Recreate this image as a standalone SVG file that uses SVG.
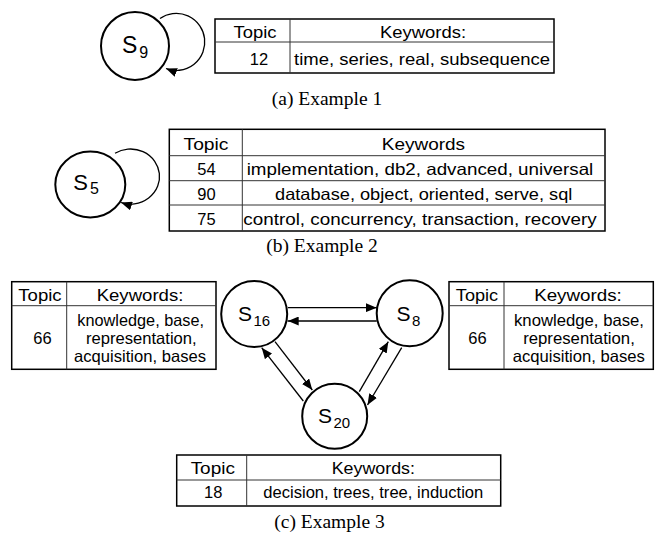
<svg xmlns="http://www.w3.org/2000/svg" width="661" height="533" viewBox="0 0 661 533">
<style>
.node{fill:#fff;stroke:#000;stroke-width:2}
.lbl{font-family:"Liberation Sans",Arial,sans-serif;fill:#000}
.tb{fill:#fff;stroke:#000;stroke-width:1.5}
.in{stroke:#333;stroke-width:1;fill:none}
.t{font-family:"Liberation Sans",Arial,sans-serif;font-size:16.5px;text-anchor:middle;fill:#000}
.cap{font-family:"Liberation Serif","Times New Roman",serif;font-size:19.5px;text-anchor:middle;fill:#000}
.edge{stroke:#000;stroke-width:1.3;fill:none;marker-end:url(#ah)}
</style>
<defs>
<marker id="ah" markerWidth="11" markerHeight="9" refX="11" refY="4.5" orient="auto" markerUnits="userSpaceOnUse"><path d="M0,0L11,4.5L0,9z" fill="#000"/></marker>
</defs>
<rect width="661" height="533" fill="#fff"/>

<!-- Example 1 -->
<g id="S9">
<circle class="node" cx="135" cy="46" r="34"/>
<text class="lbl" x="135" y="53" text-anchor="middle" font-size="23">S<tspan dx="2" dy="5" font-size="16">9</tspan></text>
</g>
<g id="table1">
<rect class="tb" x="215" y="19" width="339" height="54"/>
<line class="in" x1="215" y1="42" x2="554" y2="42"/>
<line class="in" x1="290" y1="19" x2="290" y2="73"/>
<text class="t" x="255" y="37.5" textLength="43" lengthAdjust="spacingAndGlyphs">Topic</text>
<text class="t" x="423" y="37.5" textLength="86" lengthAdjust="spacingAndGlyphs">Keywords:</text>
<text class="t" x="259" y="65">12</text>
<text class="t" x="422" y="65" textLength="256" lengthAdjust="spacingAndGlyphs">time, series, real, subsequence</text>
</g>
<text class="cap" x="327" y="105">(a) Example 1</text>

<!-- Example 2 -->
<g id="S5">
<ellipse class="node" cx="90.3" cy="184.5" rx="35" ry="33"/>
<text class="lbl" x="86" y="190" text-anchor="middle" font-size="22">S<tspan dx="2" dy="4" font-size="16">5</tspan></text>
</g>
<g id="table2">
<rect class="tb" x="169.3" y="129.3" width="435.7" height="101.7"/>
<line class="in" x1="169.3" y1="155.7" x2="605" y2="155.7"/>
<line class="in" x1="169.3" y1="180.7" x2="605" y2="180.7"/>
<line class="in" x1="169.3" y1="205" x2="605" y2="205"/>
<line class="in" x1="242.3" y1="129.3" x2="242.3" y2="231"/>
<text class="t" x="206" y="150" textLength="45" lengthAdjust="spacingAndGlyphs">Topic</text>
<text class="t" x="423.4" y="150" textLength="83.3" lengthAdjust="spacingAndGlyphs">Keywords</text>
<text class="t" x="206.5" y="175">54</text>
<text class="t" x="420" y="175" textLength="346.6" lengthAdjust="spacingAndGlyphs">implementation, db2, advanced, universal</text>
<text class="t" x="206.5" y="200">90</text>
<text class="t" x="423.7" y="200" textLength="297.3" lengthAdjust="spacingAndGlyphs">database, object, oriented, serve, sql</text>
<text class="t" x="206.5" y="225">75</text>
<text class="t" x="420" y="225" textLength="353.4" lengthAdjust="spacingAndGlyphs">control, concurrency, transaction, recovery</text>
</g>
<text class="cap" x="322" y="252">(b) Example 2</text>

<!-- Example 3 -->
<g id="S16">
<circle class="node" cx="254.2" cy="314" r="33"/>
<text class="lbl" x="254" y="320.5" text-anchor="middle" font-size="21">S<tspan dx="1.5" dy="5" font-size="15">16</tspan></text>
</g>
<g id="S8">
<circle class="node" cx="409.7" cy="313.3" r="33"/>
<text class="lbl" x="408.5" y="320.5" text-anchor="middle" font-size="21">S<tspan dx="1.5" dy="5" font-size="15">8</tspan></text>
</g>
<g id="S20">
<circle class="node" cx="334.7" cy="416.2" r="32.5"/>
<text class="lbl" x="334" y="422.5" text-anchor="middle" font-size="21">S<tspan dx="1.5" dy="5" font-size="15">20</tspan></text>
</g>

<g id="connectors">
<path class="edge" d="M160,18.5 A28.5,28.5 0 1,1 166,68.5"/>
<path class="edge" d="M115,153.3 A29,27.5 0 1,1 121,202.5"/>
<line class="edge" x1="288" y1="307.7" x2="376.7" y2="307.7"/>
<line class="edge" x1="376.7" y1="321" x2="287.7" y2="321"/>
<line class="edge" x1="303.3" y1="401" x2="261.7" y2="347.7"/>
<line class="edge" x1="275" y1="341.7" x2="312.3" y2="390"/>
<line class="edge" x1="359.3" y1="391.7" x2="388.3" y2="341.7"/>
<line class="edge" x1="401.7" y1="347.7" x2="367.5" y2="405"/>
</g>

<g id="table3a">
<rect class="tb" x="11.7" y="281.7" width="204.3" height="87.6"/>
<line class="in" x1="11.7" y1="305.7" x2="216" y2="305.7"/>
<line class="in" x1="66.7" y1="281.7" x2="66.7" y2="369.3"/>
<text class="t" x="40" y="300.7" textLength="43.3" lengthAdjust="spacingAndGlyphs">Topic</text>
<text class="t" x="140" y="300.7" textLength="86.7" lengthAdjust="spacingAndGlyphs">Keywords:</text>
<text class="t" x="42.5" y="344">66</text>
<text class="t" x="140.7" y="325.5" textLength="126.7" lengthAdjust="spacingAndGlyphs">knowledge, base,</text>
<text class="t" x="141.3" y="343.8" textLength="110.7" lengthAdjust="spacingAndGlyphs">representation,</text>
<text class="t" x="140" y="362" textLength="132" lengthAdjust="spacingAndGlyphs">acquisition, bases</text>
</g>
<g id="table3b">
<rect class="tb" x="449" y="281.7" width="204.3" height="87.6"/>
<line class="in" x1="449" y1="305.7" x2="653.3" y2="305.7"/>
<line class="in" x1="504" y1="281.7" x2="504" y2="369.3"/>
<text class="t" x="477" y="300.7" textLength="42.3" lengthAdjust="spacingAndGlyphs">Topic</text>
<text class="t" x="578" y="300.7" textLength="87.7" lengthAdjust="spacingAndGlyphs">Keywords:</text>
<text class="t" x="477.5" y="344">66</text>
<text class="t" x="579" y="325.5" textLength="130" lengthAdjust="spacingAndGlyphs">knowledge, base,</text>
<text class="t" x="579" y="343.8" textLength="111.7" lengthAdjust="spacingAndGlyphs">representation,</text>
<text class="t" x="578.8" y="362" textLength="132.3" lengthAdjust="spacingAndGlyphs">acquisition, bases</text>
</g>
<g id="table3c">
<rect class="tb" x="176.7" y="455" width="324" height="51"/>
<line class="in" x1="176.7" y1="480" x2="500.7" y2="480"/>
<line class="in" x1="246.7" y1="455" x2="246.7" y2="506"/>
<text class="t" x="212.8" y="474" textLength="44.3" lengthAdjust="spacingAndGlyphs">Topic</text>
<text class="t" x="373.3" y="474" textLength="83.3" lengthAdjust="spacingAndGlyphs">Keywords:</text>
<text class="t" x="213.3" y="498.3">18</text>
<text class="t" x="373.3" y="498.3" textLength="220" lengthAdjust="spacingAndGlyphs">decision, trees, tree, induction</text>
</g>
<text class="cap" x="329.5" y="528">(c) Example 3</text>
</svg>
